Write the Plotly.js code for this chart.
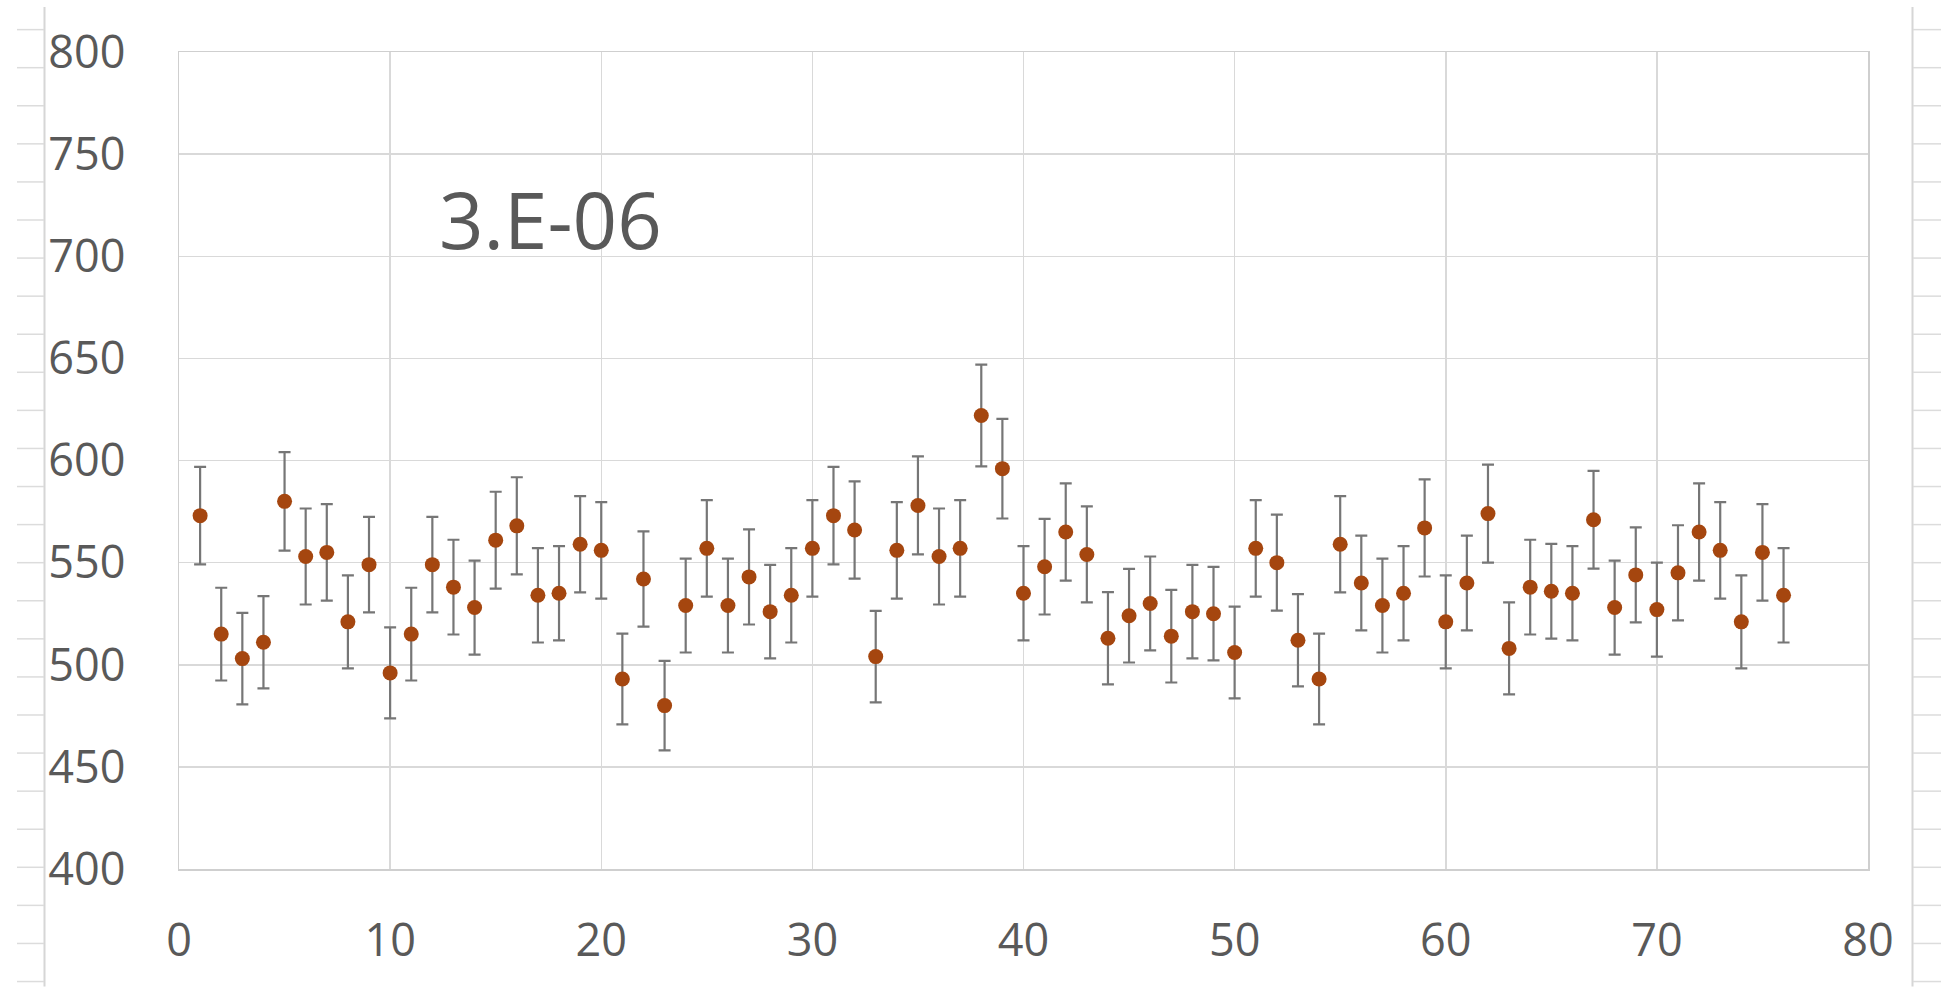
<!DOCTYPE html>
<html>
<head>
<meta charset="utf-8">
<script src="https://cdn.plot.ly/plotly-3.0.1.min.js"></script>
<style>
  html, body { margin: 0; padding: 0; background: #ffffff; }
  #chart { width: 1941px; height: 987px; }
</style>
</head>
<body>
<div id="chart"></div>
<script>
// ---- data ----
const runIndex = [
  1, 2, 3, 4, 5, 6, 7, 8, 9, 10,
  11, 12, 13, 14, 15, 16, 17, 18, 19, 20,
  21, 22, 23, 24, 25, 26, 27, 28, 29, 30,
  31, 32, 33, 34, 35, 36, 37, 38, 39, 40,
  41, 42, 43, 44, 45, 46, 47, 48, 49, 50,
  51, 52, 53, 54, 55, 56, 57, 58, 59, 60,
  61, 62, 63, 64, 65, 66, 67, 68, 69, 70,
  71, 72, 73, 74, 75, 76
];
const counts = [
  573, 515, 503, 511, 580, 553, 555, 521, 549, 496,
  515, 549, 538, 528, 561, 568, 534, 535, 559, 556,
  493, 542, 480, 529, 557, 529, 543, 526, 534, 557,
  573, 566, 504, 556, 578, 553, 557, 622, 596, 535,
  548, 565, 554, 513, 524, 530, 514, 526, 525, 506,
  557, 550, 512, 493, 559, 540, 529, 535, 567, 521,
  540, 574, 508, 538, 536, 535, 571, 528, 544, 527,
  545, 565, 556, 521, 555, 534
];
const countErr = [
  23.9, 22.7, 22.4, 22.6, 24.1, 23.5, 23.6, 22.8, 23.4, 22.3,
  22.7, 23.4, 23.2, 23.0, 23.7, 23.8, 23.1, 23.1, 23.6, 23.6,
  22.2, 23.3, 21.9, 23.0, 23.6, 23.0, 23.3, 22.9, 23.1, 23.6,
  23.9, 23.8, 22.4, 23.6, 24.0, 23.5, 23.6, 24.9, 24.4, 23.1,
  23.4, 23.8, 23.5, 22.6, 22.9, 23.0, 22.7, 22.9, 22.9, 22.5,
  23.6, 23.5, 22.6, 22.2, 23.6, 23.2, 23.0, 23.1, 23.8, 22.8,
  23.2, 24.0, 22.5, 23.2, 23.2, 23.1, 23.9, 23.0, 23.3, 23.0,
  23.3, 23.8, 23.6, 22.8, 23.6, 23.1
];
const xTicks = [0, 10, 20, 30, 40, 50, 60, 70, 80];
const yTicks = [400, 450, 500, 550, 600, 650, 700, 750, 800];
const chartLabel = "3.E-06";

// ---- page geometry ----
const W = 1941, H = 987;
const M = { l: 179, r: 73, t: 52, b: 117.5 };
const PW = W - M.l - M.r, PH = H - M.t - M.b;
const px = v => (v - M.l) / PW;
const py = v => (H - M.b - v) / PH;

// spreadsheet cell lines visible behind the chart (decoration)
const shapes = [];
const cellLine = { color: "#dcdcdc", width: 1.5 };
shapes.push({ type: "line", xref: "paper", yref: "paper", x0: px(44.5), x1: px(44.5), y0: py(7), y1: py(H), line: { color: "#d6d6d6", width: 2 }, layer: "below" });
shapes.push({ type: "line", xref: "paper", yref: "paper", x0: px(1912.5), x1: px(1912.5), y0: py(7), y1: py(H), line: { color: "#d6d6d6", width: 2 }, layer: "below" });
for (let k = 0; k < 26; k++) {
  const yy = 29.6 + 38.1 * k;
  shapes.push({ type: "line", xref: "paper", yref: "paper", x0: px(17), x1: px(44), y0: py(yy), y1: py(yy), line: cellLine, layer: "below" });
  shapes.push({ type: "line", xref: "paper", yref: "paper", x0: px(1913), x1: px(W), y0: py(yy), y1: py(yy), line: cellLine, layer: "below" });
}

const trace = {
  type: "scatter",
  mode: "markers",
  x: runIndex,
  y: counts,
  marker: { color: "#A5460F", size: 15 },
  error_y: { type: "data", array: countErr, visible: true, color: "#767676", thickness: 2.2, width: 6 },
  hoverinfo: "x+y",
  showlegend: false
};

const font = { family: "Open Sans, sans-serif", color: "#595959", size: 45 };

const layout = {
  width: W, height: H,
  margin: { l: M.l, r: M.r, t: M.t, b: M.b, pad: 0 },
  paper_bgcolor: "#ffffff",
  plot_bgcolor: "#ffffff",
  font: font,
  showlegend: false,
  xaxis: {
    range: [0, 80],
    tickmode: "array", tickvals: xTicks, ticktext: xTicks.map(String),
    showgrid: true, gridcolor: "#d9d9d9", gridwidth: 1.5,
    showline: true, linecolor: "#cfcfcf", linewidth: 1.5, mirror: true,
    zeroline: false, ticks: "", ticklabelstandoff: 31,
    tickfont: font, fixedrange: true
  },
  yaxis: {
    range: [400, 800],
    tickmode: "array", tickvals: yTicks, ticktext: yTicks.map(String),
    showgrid: true, gridcolor: "#d9d9d9", gridwidth: 1.5,
    showline: true, linecolor: "#cfcfcf", linewidth: 1.5, mirror: true,
    zeroline: false, ticks: "", ticklabelstandoff: 43,
    tickfont: font, fixedrange: true
  },
  annotations: [{
    text: chartLabel, xref: "x", yref: "y", x: 17.6, y: 718,
    xanchor: "center", yanchor: "middle", showarrow: false,
    font: { family: "Open Sans, sans-serif", color: "#595959", size: 78 }
  }],
  shapes: shapes
};

Plotly.newPlot("chart", [trace], layout, { staticPlot: true, displayModeBar: false });
</script>
</body>
</html>
